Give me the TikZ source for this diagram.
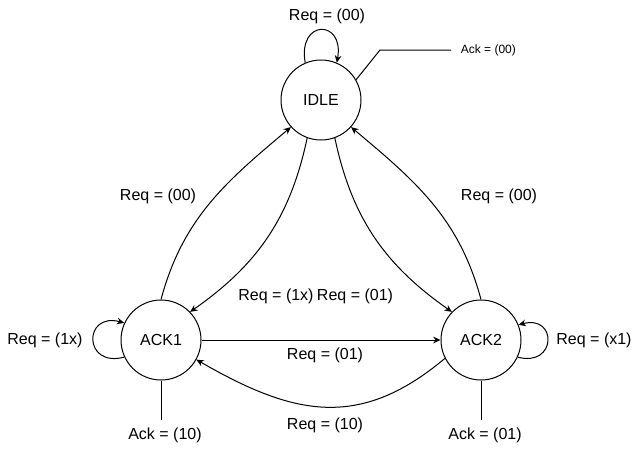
\documentclass[tikz,border=0pt]{standalone}
\usepackage{fontspec}
\setmainfont{Liberation Sans}
\usepackage{xcolor}
\usepackage{tikz}
\usetikzlibrary{positioning, arrows.meta}

\begin{document}
\begin{tikzpicture}[x = 0.75pt, y = -0.75pt, >={Stealth[length = 5.5pt, width = 5pt]}, line width = 0.75pt]
            \tikzstyle{state} = [circle, draw=black, minimum size = 60pt, inner sep = 0pt, font = \fontsize{12}{14}\selectfont];
            \tikzstyle{lbl} = [inner sep = 1pt, font = \fontsize{12}{14}\selectfont]
            \tikzstyle{small} = [inner sep = 1pt, font = \fontsize{9}{11}\selectfont]
            \useasboundingbox (0, 0) rectangle (641, 450);

            \node [state] (IDLE) at (321, 100) {IDLE};
            \node [state] (ACK1) at (161, 340) {ACK1};
            \node [state] (ACK2) at (481, 340) {ACK2};

            \coordinate (K0) at (380, 50);
            \coordinate (K1) at (451, 50);
            \coordinate (K2) at (161, 420);
            \coordinate (K3) at (481, 420);

            \node [lbl] (L0) at (327, 16) {Req = (00)};
            \node [small, right = 6pt of K1] (L1) {Ack = (00)};
            \node [lbl] (L2) at (158, 196) {Req = (00)};
            \node [lbl] (L3) at (499, 196) {Req = (00)};
            \node [lbl] (L4) at (276, 296) {Req = (1x)};
            \node [lbl] (L5) at (355, 296) {Req = (01)};
            \node [lbl] (L6) at (325, 355) {Req = (01)};
            \node [lbl] (L7) at (325, 425) {Req = (10)};
            \node [lbl] (L8) at (45, 340) {Req = (1x)};
            \node [lbl] (L9) at (594, 340) {Req = (x1)};
            \node [lbl] (L10) at (165, 435) {Ack = (10)};
            \node [lbl] (L11) at (485, 435) {Ack = (01)};

            \draw [->] (IDLE.113) to [out = 100, in = 80, looseness = 3.6] (IDLE.67);
            \draw [->] (ACK1.205) to [out = 195, in = 165, looseness = 3.2] (ACK1.155);
            \draw [->] (ACK2.335) to [out = -15, in = 15, looseness = 3.2] (ACK2.22);

            \draw [->] (ACK1.90) to [out = 75, in = 220] (IDLE.222);
            \draw [->] (IDLE.250) to [out = 258, in = 35] (ACK1.44);
            \draw [->] (IDLE.290) to [out = 282, in = 145] (ACK2.136);
            \draw [->] (ACK2.90) to [out = 105, in = 320] (IDLE.318);
            \draw [->] (ACK1) to (ACK2);
            \draw [->] (ACK2.207) to [out = 220, in = -30, looseness = 1.15] (ACK1.331);

            \draw (IDLE.30) -- (K0) -- (K1);
            \draw (ACK1.south) -- (K2);
            \draw (ACK2.south) -- (K3);
        \end{tikzpicture}
\end{document}
